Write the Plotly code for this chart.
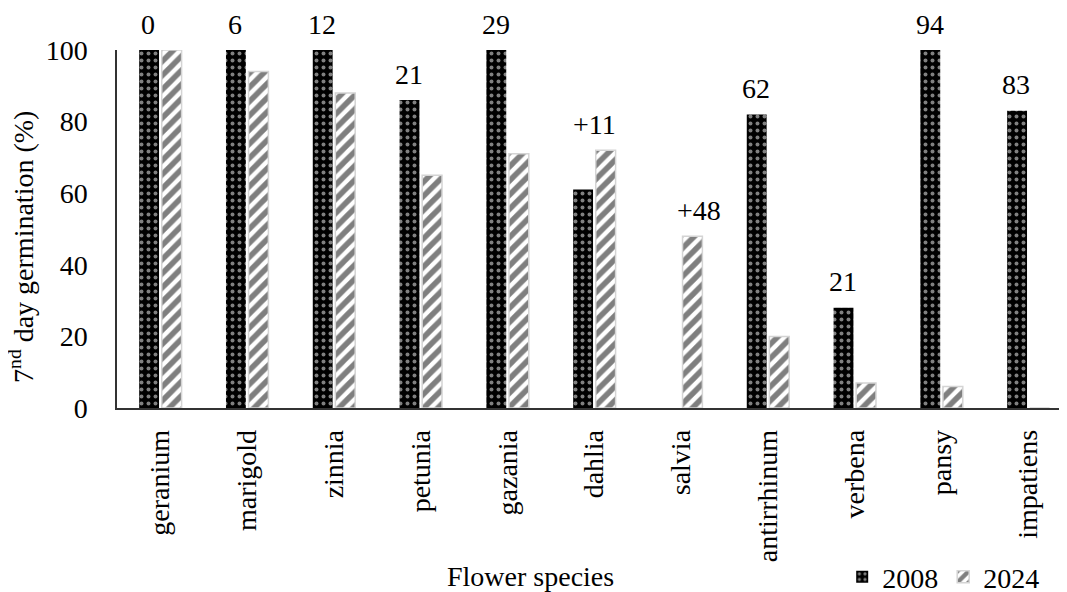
import plotly.graph_objects as go

species = ["geranium", "marigold", "zinnia", "petunia", "gazania", "dahlia",
           "salvia", "antirrhinum", "verbena", "pansy", "impatiens"]
germ_2008 = [100, 100, 100, 86, 100, 61, 0, 82, 28, 100, 83]
germ_2024 = [100, 94, 88, 65, 71, 72, 48, 20, 7, 6, 0]
y_ticks = [0, 20, 40, 60, 80, 100]

FONT = "Liberation Serif"

fig = go.Figure()
fig.add_trace(go.Bar(
    name="2008", x=species, y=germ_2008,
    marker=dict(color="black", line=dict(width=0),
                pattern=dict(shape=".", fgcolor="white", bgcolor="black",
                             size=7, solidity=0.25, fillmode="overlay")),
))
fig.add_trace(go.Bar(
    name="2024", x=species, y=germ_2024,
    marker=dict(color="white", line=dict(width=1.5, color="#d4d4d4"),
                pattern=dict(shape="/", fgcolor="black", bgcolor="white",
                             size=10, solidity=0.55, fillmode="overlay")),
))

# difference labels (2008 - 2024); "+" marks an increase
annotations = []
for i, sp in enumerate(species):
    a, b = germ_2008[i], germ_2024[i]
    d = a - b
    if d >= 0:
        text, yv, xs = str(d), a, -12
    elif a > 0:
        text, yv, xs = "+" + str(-d), max(a, b), 0
    else:
        text, yv, xs = "+" + str(-d), b, 18
    annotations.append(dict(x=sp, y=yv, xref="x", yref="y", text=text,
                            showarrow=False, xshift=xs, yshift=26,
                            yanchor="middle",
                            font=dict(family=FONT, size=28, color="black")))

annotations.append(dict(x=0.435, y=-0.472, xref="paper", yref="paper",
                        text="Flower species", showarrow=False,
                        xanchor="center", yanchor="middle",
                        font=dict(family=FONT, size=28, color="black")))
annotations.append(dict(x=-0.1, y=0.45, xref="paper", yref="paper",
                        text="7<sup>nd</sup> day germination (%)",
                        textangle=-90, showarrow=False,
                        xanchor="center", yanchor="middle",
                        font=dict(family=FONT, size=28, color="black")))

# page body has an 8px margin, so the figure is 8px smaller on each axis
fig.update_layout(
    width=1059, height=584,
    margin=dict(l=109, r=0, t=42, b=184, autoexpand=False),
    paper_bgcolor="white", plot_bgcolor="white",
    font=dict(family=FONT, size=28, color="black"),
    barmode="group", bargap=0.48, bargroupgap=0.12,
    showlegend=True,
    legend=dict(orientation="h", x=0.976, xanchor="right", y=-0.472,
                yanchor="middle", font=dict(family=FONT, size=28),
                itemwidth=30, tracegroupgap=0, bgcolor="rgba(0,0,0,0)"),
    annotations=annotations,
)
fig.update_xaxes(
    range=[-0.5, 10.445], showline=True, linecolor="#333333", linewidth=1.5,
    tickangle=-90, ticks="outside", ticklen=9, tickcolor="rgba(0,0,0,0)",
    tickfont=dict(family=FONT, size=28), showgrid=False, automargin=False,
)
fig.update_yaxes(
    range=[0, 100], tickvals=y_ticks, showline=True, linecolor="#333333",
    linewidth=1.5, ticks="outside", ticklen=22, tickcolor="rgba(0,0,0,0)",
    tickfont=dict(family=FONT, size=28), showgrid=False, zeroline=False,
    automargin=False,
)

fig.write_html("out.html")
